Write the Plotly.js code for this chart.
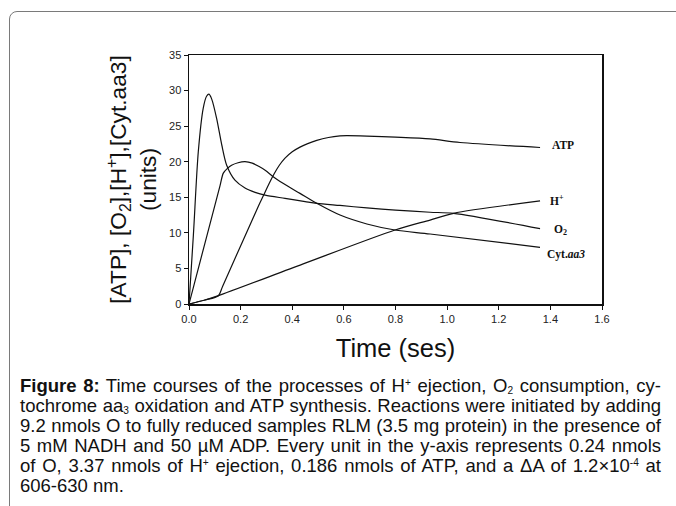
<!DOCTYPE html>
<html><head><meta charset="utf-8">
<script src="https://cdn.plot.ly/plotly-3.0.1.min.js"></script>
<style>
html,body{margin:0;padding:0;width:676px;height:506px;overflow:hidden;background:#fff;}
#chart{position:absolute;left:0;top:0;width:676px;height:506px;}
#frame{position:absolute;left:9px;top:11px;width:720px;height:600px;border:1.5px solid #7a7a7a;border-top-left-radius:8px;pointer-events:none;}
#caption{position:absolute;left:20px;top:376px;width:641px;font-family:"Liberation Sans Narrow","Arial Narrow","Liberation Sans",Arial,sans-serif;font-size:18.5px;line-height:20px;color:#111;}
.ln{display:block;white-space:nowrap;height:20px;}
.ln span.in{display:inline-block;transform-origin:0 0;line-height:18px;}
sup,sub{font-size:55%;line-height:0;}
sub{vertical-align:-0.15em;}
sup{vertical-align:0.6em;}
</style></head>
<body>
<div id="chart"></div>
<div id="frame"></div>
<div id="caption">
<div class="ln"><span class="in"><b>Figure 8:</b> Time courses of the processes of H<sup>+</sup> ejection, O<sub>2</sub> consumption, cy-</span></div>
<div class="ln"><span class="in">tochrome aa<sub>3</sub> oxidation and ATP synthesis. Reactions were initiated by adding</span></div>
<div class="ln"><span class="in">9.2 nmols O to fully reduced samples RLM (3.5 mg protein) in the presence of</span></div>
<div class="ln"><span class="in">5 mM NADH and 50 µM ADP. Every unit in the y-axis represents 0.24 nmols</span></div>
<div class="ln"><span class="in">of O, 3.37 nmols of H<sup>+</sup> ejection, 0.186 nmols of ATP, and a ΔA of 1.2×10<sup>-4</sup> at</span></div>
<div class="ln last"><span class="in">606-630 nm.</span></div>
</div>
<script>
// ---- data (time in s, values in units) ----
const o2Time = [0, 0.017, 0.036, 0.055, 0.068, 0.0775, 0.088, 0.107, 0.127, 0.146, 0.178, 0.217, 0.256, 0.295, 0.372, 0.45, 0.495, 0.585, 0.689, 0.8, 0.934, 1.025, 1.36];
const o2Vals = [0, 9.7, 21.4, 27.5, 29.2, 29.5, 28.8, 26.1, 22.35, 19.5, 17.4, 16.3, 15.7, 15.3, 14.85, 14.4, 14.15, 13.85, 13.5, 13.2, 12.9, 12.75, 10.6];

const cytTime = [0, 0.02, 0.12, 0.133, 0.15, 0.165, 0.19, 0.217, 0.245, 0.27, 0.295, 0.333, 0.385, 0.43, 0.495, 0.585, 0.689, 0.798, 0.934, 1.36];
const cytVals = [0, 2.77, 16.6, 18.4, 19.1, 19.5, 19.85, 20.0, 19.8, 19.35, 18.8, 17.7, 16.5, 15.55, 14.15, 12.5, 11.25, 10.4, 9.84, 7.97];

const hTime = [0, 0.062, 0.114, 0.44, 0.798, 0.934, 1.025, 1.36];
const hVals = [0, 0.56, 1.17, 5.6, 10.4, 11.8, 12.75, 14.5];

const atpTime = [0, 0.062, 0.114, 0.13, 0.27, 0.288, 0.31, 0.33, 0.35, 0.372, 0.40, 0.43, 0.46, 0.495, 0.54, 0.585, 0.611, 0.689, 0.8, 0.934, 1.05, 1.36];
const atpVals = [0, 0.56, 1.17, 2.47, 13.84, 15.2, 16.9, 18.3, 19.5, 20.5, 21.4, 22.05, 22.55, 23.0, 23.4, 23.62, 23.66, 23.6, 23.45, 23.2, 22.7, 22.0];

const seriesNames = ['ATP', 'H<sup>+</sup>', 'O<sub>2</sub>', 'Cyt.<i>aa3</i>'];
const xTickVals = [0, 0.2, 0.4, 0.6, 0.8, 1.0, 1.2, 1.4, 1.6];
const yTickVals = [0, 5, 10, 15, 20, 25, 30, 35];

const seriesX = [atpTime, hTime, o2Time, cytTime];
const seriesY = [atpVals, hVals, o2Vals, cytVals];
const labelShiftY = [2, 1, -1, -7];
const labelShiftX = [10, 8, 12, 5];

const traces = seriesX.map((xs, i) => ({
  x: xs, y: seriesY[i], type: 'scatter', mode: 'lines', name: seriesNames[i],
  line: {color: '#111', width: 1.2, shape: 'spline', smoothing: 0.8}, hoverinfo: 'skip'
}));

const annotations = seriesX.map((xs, i) => ({
  x: xs[xs.length - 1], y: seriesY[i][seriesY[i].length - 1], xref: 'x', yref: 'y',
  text: '<b>' + seriesNames[i] + '</b>', showarrow: false, xanchor: 'left', yanchor: 'middle',
  xshift: labelShiftX[i], yshift: labelShiftY[i],
  font: {family: 'Liberation Serif, Times New Roman, serif', size: 11.5, color: '#111'}
}));

const layout = {
  width: 676, height: 506,
  margin: {l: 189, r: 74, t: 55, b: 202},
  paper_bgcolor: '#fff', plot_bgcolor: '#fff',
  showlegend: false,
  font: {family: 'Liberation Sans, Arial, sans-serif', color: '#222'},
  xaxis: {
    range: [0, 1.6], tickvals: xTickVals, ticktext: xTickVals.map(v => v.toFixed(1)),
    showgrid: false, zeroline: false, showline: true, mirror: true, linecolor: '#111', linewidth: 1.5,
    ticks: 'outside', ticklen: 4, tickwidth: 1, tickcolor: '#111',
    tickfont: {size: 11, color: '#222'},
    title: {text: 'Time (ses)', font: {size: 25.5, color: '#111'}, standoff: 15}
  },
  yaxis: {
    range: [0, 35], tickvals: yTickVals,
    showgrid: false, zeroline: false, showline: true, mirror: true, linecolor: '#111', linewidth: 1.5,
    ticks: 'outside', ticklen: 4, tickwidth: 1, tickcolor: '#111',
    tickfont: {size: 11, color: '#222'},
    title: {text: '[ATP], [O<sub>2</sub>],[H<sup>+</sup>],[Cyt.aa3]<br>(units)', font: {size: 22.7, color: '#111'}, standoff: 6}
  },
  annotations: annotations
};

Plotly.newPlot('chart', traces, layout, {staticPlot: true, displayModeBar: false});

// justify caption lines like the original figure legend
const target = 641;
document.querySelectorAll('#caption .ln').forEach(ln => {
  const inner = ln.querySelector('.in');
  const w = inner.getBoundingClientRect().width;
  if (ln.classList.contains('last')) {
    if (w > target) inner.style.transform = 'scaleX(' + (target / w) + ')';
    return;
  }
  const spaces = (inner.textContent.match(/ /g) || []).length;
  if (w < target && spaces > 0) {
    inner.style.wordSpacing = ((target - w) / spaces) + 'px';
  } else if (w > target) {
    inner.style.transform = 'scaleX(' + (target / w) + ')';
  }
});
</script>
</body></html>
